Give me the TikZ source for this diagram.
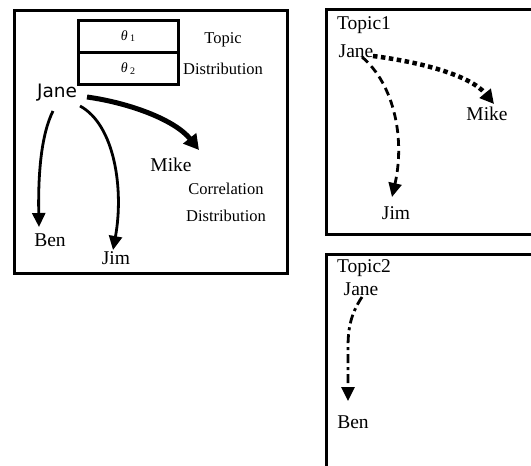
\documentclass[tikz,border=0pt]{standalone}
\usepackage{fontspec}
\setmainfont{Liberation Serif}
\newfontfamily\janefont{DejaVu Sans}
\usetikzlibrary{arrows.meta}
\begin{document}
\begin{tikzpicture}[x=1pt,y=-1pt,
  frame/.style={draw,line width=3pt},
  cell/.style={draw,line width=3pt,minimum width=100pt,minimum height=32pt,inner sep=0pt,font=\fontsize{14}{16}\selectfont},
  big/.style={inner sep=0pt,font=\fontsize{19.5}{23}\selectfont},
  small/.style={inner sep=0pt,font=\fontsize{16.5}{19}\selectfont},
  sans/.style={inner sep=0pt,font=\janefont\fontsize{18.5}{22}\selectfont},
  arr/.style={line width=2.8pt,-{Triangle[length=14pt,width=13pt]}},
  thick arr/.style={line width=5pt,-{Triangle[length=15pt,width=16pt]}},
  dot arr/.style={line width=4.5pt,dash pattern=on 4.5pt off 3.5pt,-{Triangle[length=14pt,width=14pt]}},
  dash arr/.style={line width=2.8pt,dash pattern=on 8pt off 5pt,-{Triangle[length=14pt,width=13pt]}},
  dashdot arr/.style={line width=2.8pt,dash pattern=on 9pt off 4pt on 3pt off 4pt,-{Triangle[length=14pt,width=13pt]}}
]
\clip (0,0) rectangle (531,466);
\fill[white] (0,0) rectangle (531,466);
% frames
\draw[frame] (14,10) rectangle (287,273);
\draw[frame] (326,9) rectangle (545,234);
\draw[frame] (326,254) rectangle (545,480);
% left panel
\node[cell] (th1) at (128,36) {\itshape θ\,\raisebox{-1.5pt}{\upshape\fontsize{10}{12}\selectfont 1}};
\node[cell] (th2) at (128,68.5) {\itshape θ\,\raisebox{-1.5pt}{\upshape\fontsize{10}{12}\selectfont 2}};
\node[small] (topic) at (223,40) {Topic};
\node[small] (tdist) at (223,69) {Distribution};
\node[sans] (janeL) at (57,93) {Jane};
\node[big] (mikeL) at (171,165) {Mike};
\node[small] (corr) at (226,189) {Correlation};
\node[small] (cdist) at (226,216) {Distribution};
\node[big] (benL) at (50,240) {Ben};
\node[big] (jimL) at (116,258) {Jim};
\draw[arr] ([shift={(-4,18)}]janeL.center) .. controls (41,135) and (38,175) .. ([shift={(-11,-13)}]benL.center);
\draw[arr] ([shift={(23,13)}]janeL.center) .. controls (115,125) and (124,190) .. ([shift={(-3,-8)}]jimL.center);
\draw[thick arr] ([shift={(30,4)}]janeL.center) .. controls (130,103) and (175,120) .. ([shift={(28,-15)}]mikeL.center);
% right top panel
\node[big] (topic1) at (364,25) {Topic1};
\node[big] (jane1) at (356,51) {Jane};
\node[big] (mike1) at (487,114) {Mike};
\node[big] (jim1) at (396,213) {Jim};
\draw[dot arr] ([shift={(17,5)}]jane1.center) .. controls (420,62) and (470,75) .. ([shift={(7,-10)}]mike1.center);
\draw[dash arr] ([shift={(6,6)}]jane1.center) .. controls (395,85) and (405,140) .. ([shift={(-4,-16)}]jim1.center);
% right bottom panel
\node[big] (topic2) at (364,268) {Topic2};
\node[big] (jane2) at (361,289) {Jane};
\node[big] (ben2) at (353,422) {Ben};
\draw[dashdot arr] ([shift={(1,8)}]jane2.center) .. controls (350,315) and (348,330) .. (348,348) -- ([shift={(-5,-21)}]ben2.center);
\end{tikzpicture}
\end{document}
